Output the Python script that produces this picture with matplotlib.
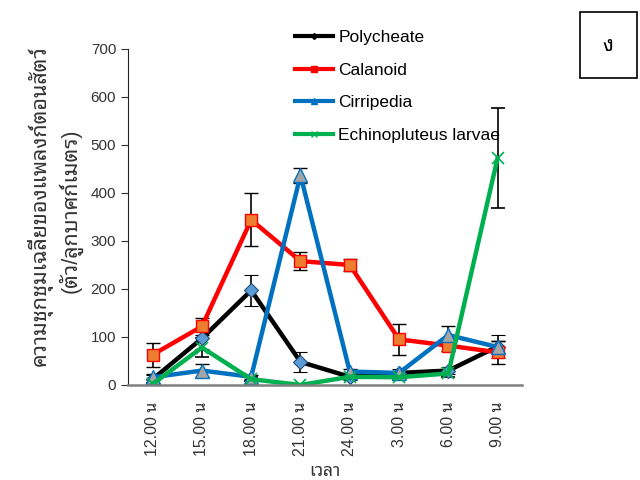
import matplotlib
matplotlib.use("Agg")
import matplotlib.pyplot as plt
from matplotlib.lines import Line2D
from matplotlib.patches import Rectangle

plt.rcParams['font.family'] = ['Liberation Sans', 'Noto Sans Thai Looped', 'DejaVu Sans']

times = ["12.00 น", "15.00 น", "18.00 น", "21.00 น", "24.00 น", "3.00 น", "6.00 น", "9.00 น"]

poly = [12, 97, 197, 48, 17, 25, 30, 80]
poly_err = [8, 22, 33, 20, 6, 8, 8, 24]
cal = [63, 122, 344, 258, 250, 95, 82, 68]
cal_err = [25, 18, 55, 18, 13, 33, 12, 24]
cirr = [16, 30, 17, 437, 28, 25, 104, 79]
cirr_err = [6, 14, 4, 16, 5, 5, 19, 12]
echi = [2, 78, 12, 0, 17, 16, 24, 473]
echi_err = [2, 20, 4, 2, 4, 5, 8, 104]

names = ["Polycheate", "Calanoid", "Cirripedia", "Echinopluteus larvae"]
line_colors = ["black", "#ff0000", "#0070c0", "#00b050"]

fig = plt.figure(figsize=(6.4, 4.8), dpi=100)
ax = fig.add_axes([0.2, 0.198, 0.616, 0.7])
x = list(range(len(times)))

styles = [
    (poly, poly_err, dict(marker="D", ms=7, mfc="#5b9bd5", mec="#1f4e79", mew=0.8)),
    (cal, cal_err, dict(marker="s", ms=9, mfc="#ed7d31", mec="#ff0000", mew=1.0)),
    (cirr, cirr_err, dict(marker="^", ms=10, mfc="#a5a5a5", mec="#0070c0", mew=1.0)),
    (echi, echi_err, dict(marker="x", ms=8, mec="#00b050", mew=1.2)),
]
for (vals, err, mk), col in zip(styles, line_colors):
    ax.errorbar(x, vals, yerr=err, color=col, lw=3.2, ecolor="black",
                elinewidth=1.2, capsize=5, capthick=1.2, **mk)

ax.set_xlim(-0.5, len(times) - 0.5)
ax.set_ylim(0, 700)
ax.set_yticks(range(0, 701, 100))
ax.set_xticks(x)
ax.set_xticklabels(times, rotation=90, fontsize=11.5)
ax.tick_params(axis="y", labelsize=11, direction="out", length=5, colors="#333333")
ax.tick_params(axis="x", length=0, pad=12, colors="#333333")
for s in ["top", "right"]:
    ax.spines[s].set_visible(False)
ax.spines["left"].set_color("#222222")
ax.spines["bottom"].set_color("#7f7f7f")
ax.spines["bottom"].set_linewidth(1.8)
ax.set_xlabel("เวลา", fontsize=12.5, color="#333333", labelpad=6)

# two-line y title drawn as separate texts
fig.text(0.062, 0.571, "ความชุกชุมเฉลี่ยของแพลงก์ตอนสัตว์", rotation=90,
         ha="center", va="center", fontsize=15.5, fontweight="light", color="#333333")
fig.text(0.11, 0.56, "(ตัว/ลูกบาศก์เมตร)", rotation=90,
         ha="center", va="center", fontsize=15.5, fontweight="light", color="#333333")

handles = [
    Line2D([], [], color=line_colors[0], lw=3, marker="D", ms=3),
    Line2D([], [], color=line_colors[1], lw=3, marker="s", ms=4),
    Line2D([], [], color=line_colors[2], lw=3, marker="^", ms=4),
    Line2D([], [], color=line_colors[3], lw=3, marker="x", ms=4),
]
fig.legend(handles, names, loc="upper left", bbox_to_anchor=(0.45, 0.952),
           frameon=False, fontsize=12.5, handlelength=2.2, handletextpad=0.3,
           labelspacing=1.0, borderaxespad=0)

fig.add_artist(Rectangle((0.906, 0.8375), 0.089, 0.1375, transform=fig.transFigure,
                         fill=False, ec="black", lw=1.2))
fig.text(0.95, 0.906, "ง", ha="center", va="center", fontsize=15)

fig.savefig("out.png")
